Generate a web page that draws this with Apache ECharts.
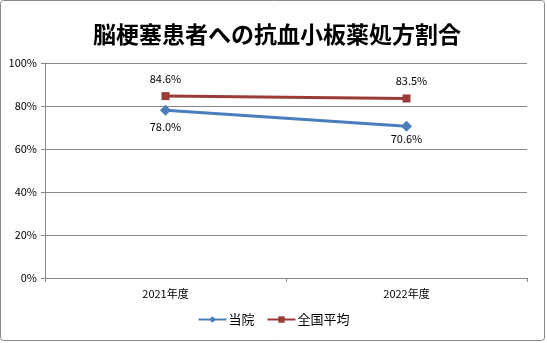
<!DOCTYPE html>
<html>
<head>
<meta charset="utf-8">
<script src="https://cdn.jsdelivr.net/npm/echarts@6/dist/echarts.min.js"></script>
<style>
  html, body { margin: 0; padding: 0; background: #fff; }
  #chart { width: 547px; height: 343px; }
</style>
</head>
<body>
<div id="chart"></div>
<script>
// Fiscal years on the category axis
const years = ['2021年度', '2022年度'];
// Antiplatelet prescription rate (%) for stroke patients
const hospitalRate = [78.0, 70.6];
const nationalAvg = [84.6, 83.5];
// Value axis ticks (%)
const yTicks = [0, 20, 40, 60, 80, 100];

const FONT = '"Noto Sans CJK JP", "DejaVu Sans", sans-serif';
const chart = echarts.init(document.getElementById('chart'), null, { renderer: 'canvas' });

const pct = p => p.value.toFixed(1) + '%';

chart.setOption({
  animation: false,
  backgroundColor: '#fff',
  graphic: [{
    type: 'rect',
    shape: { x: 0.5, y: 0.5, width: 544, height: 340, r: 3 },
    style: { fill: 'none', stroke: '#888', lineWidth: 1 },
    silent: true
  }],
  title: {
    text: '脳梗塞患者への抗血小板薬処方割合',
    left: 272, top: 18, textAlign: 'center',
    textStyle: { fontFamily: FONT, fontSize: 23, fontWeight: 'bold', color: '#000' }
  },
  legend: {
    bottom: 12, left: 'center',
    itemWidth: 28, itemHeight: 8, itemGap: 12,
    textStyle: { fontFamily: FONT, fontSize: 13, color: '#000', padding: [0, 0, 0, -3] },
    data: ['当院', '全国平均']
  },
  grid: { left: 45, right: 20, top: 63, bottom: 65 },
  xAxis: {
    type: 'category',
    data: years,
    boundaryGap: true,
    axisLine: { lineStyle: { color: '#888' } },
    axisTick: { show: true, alignWithLabel: false, length: 4, lineStyle: { color: '#888' } },
    axisLabel: { fontFamily: FONT, fontSize: 11, color: '#000', margin: 10 }
  },
  yAxis: {
    type: 'value',
    min: yTicks[0], max: yTicks[yTicks.length - 1], interval: yTicks[1] - yTicks[0],
    axisLine: { show: true, lineStyle: { color: '#888' } },
    axisTick: { show: true, length: 4, lineStyle: { color: '#888' } },
    splitLine: { lineStyle: { color: '#888' } },
    axisLabel: { fontFamily: FONT, fontSize: 11, color: '#000', formatter: v => v + '%' }
  },
  series: [
    {
      name: '当院', type: 'line',
      data: hospitalRate.map((v, i) => i === 1 ? { value: v, label: { distance: 2 } } : v),
      color: '#4A7EBB',
      symbol: 'diamond', symbolSize: 11,
      lineStyle: { width: 3, color: '#4A7EBB' },
      itemStyle: { color: '#4A7EBB' },
      label: {
        show: true, position: 'bottom', distance: 6,
        fontFamily: FONT, fontSize: 11, color: '#000',
        formatter: pct
      }
    },
    {
      name: '全国平均', type: 'line',
      data: nationalAvg.map((v, i) => i === 1 ? { value: v, label: { offset: [5, 0] } } : v),
      color: '#9B3B38',
      symbol: 'rect', symbolSize: 8,
      lineStyle: { width: 3, color: '#9B3B38' },
      itemStyle: { color: '#9B3B38' },
      label: {
        show: true, position: 'top', distance: 8,
        fontFamily: FONT, fontSize: 11, color: '#000',
        formatter: pct
      }
    }
  ]
});
</script>
</body>
</html>
